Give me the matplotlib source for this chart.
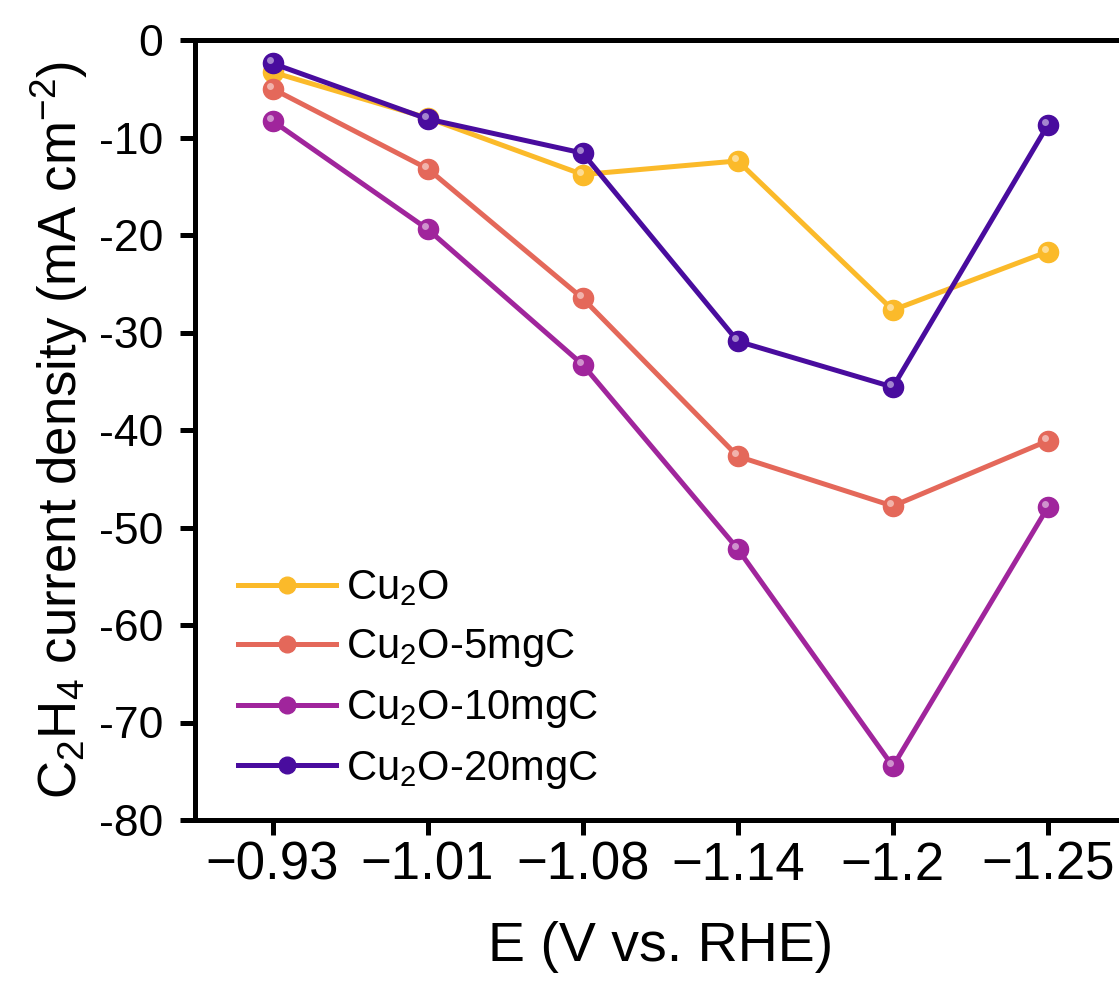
import matplotlib.pyplot as plt
import matplotlib.transforms as mtransforms

plt.rcParams['font.family'] = ['Liberation Sans', 'DejaVu Sans']
plt.rcParams['mathtext.fontset'] = 'custom'
plt.rcParams['mathtext.rm'] = 'Liberation Sans'
plt.rcParams['mathtext.it'] = 'Liberation Sans'

potentials = ['\u22120.93', '\u22121.01', '\u22121.08', '\u22121.14', '\u22121.2', '\u22121.25']
cu2o = [-3.3, -8.0, -13.8, -12.4, -27.7, -21.7]
cu2o_5mgc = [-5.0, -13.2, -26.5, -42.7, -47.8, -41.1]
cu2o_10mgc = [-8.3, -19.4, -33.3, -52.2, -74.5, -47.9]
cu2o_20mgc = [-2.4, -8.1, -11.6, -30.9, -35.6, -8.7]

names = ['Cu$_2$O', 'Cu$_2$O-5mgC', 'Cu$_2$O-10mgC', 'Cu$_2$O-20mgC']
colors = ['#FBBA2A', '#E4685A', '#A0259C', '#490C9E']
series = [cu2o, cu2o_5mgc, cu2o_10mgc, cu2o_20mgc]

fig = plt.figure(figsize=(11.19, 9.86), dpi=100)
ax = fig.add_axes([195 / 1119, 166 / 986, 930.5 / 1119, 780 / 986])

x = list(range(len(potentials)))
shift = mtransforms.ScaledTranslation(-3 / 100, 3 / 100, fig.dpi_scale_trans)
for vals, name, c in zip(series, names, colors):
    ax.plot(x, vals, color=c, lw=3.6, marker='o', ms=14.5, mec=c, mfc=c, label=name)
    # little highlight on each ball
    ax.plot(x, vals, ls='none', marker='o', ms=5, mfc='white', mec='none', alpha=0.5,
            transform=ax.transData + shift)

ax.set_xlim(-0.5, 5.5)
ax.set_ylim(-80, 0)
ax.set_xticks(x)
ax.set_xticklabels(potentials)
ax.set_yticks(range(-80, 1, 10))
ax.set_yticklabels([str(v) for v in range(-80, 1, 10)])

for s in ax.spines.values():
    s.set_linewidth(3.6)
ax.tick_params(axis='both', direction='out', length=11, width=3.6)
ax.tick_params(axis='x', labelsize=38, pad=4)
ax.tick_params(axis='y', labelsize=32, pad=12)

ax.set_xlabel('E (V vs. RHE)', fontsize=40, labelpad=22)
ax.set_ylabel('C$_2$H$_4$ current density (mA cm$^{-2}$)', fontsize=38, labelpad=6)

leg = ax.legend(loc='lower left', frameon=False, fontsize=30, handlelength=2.35,
                handletextpad=0.25, labelspacing=0.45, borderaxespad=0.3,
                bbox_to_anchor=(0.015, 0.0))
for h in leg.legend_handles:
    h.set_markersize(12)

fig.savefig('out.png', dpi=100)
